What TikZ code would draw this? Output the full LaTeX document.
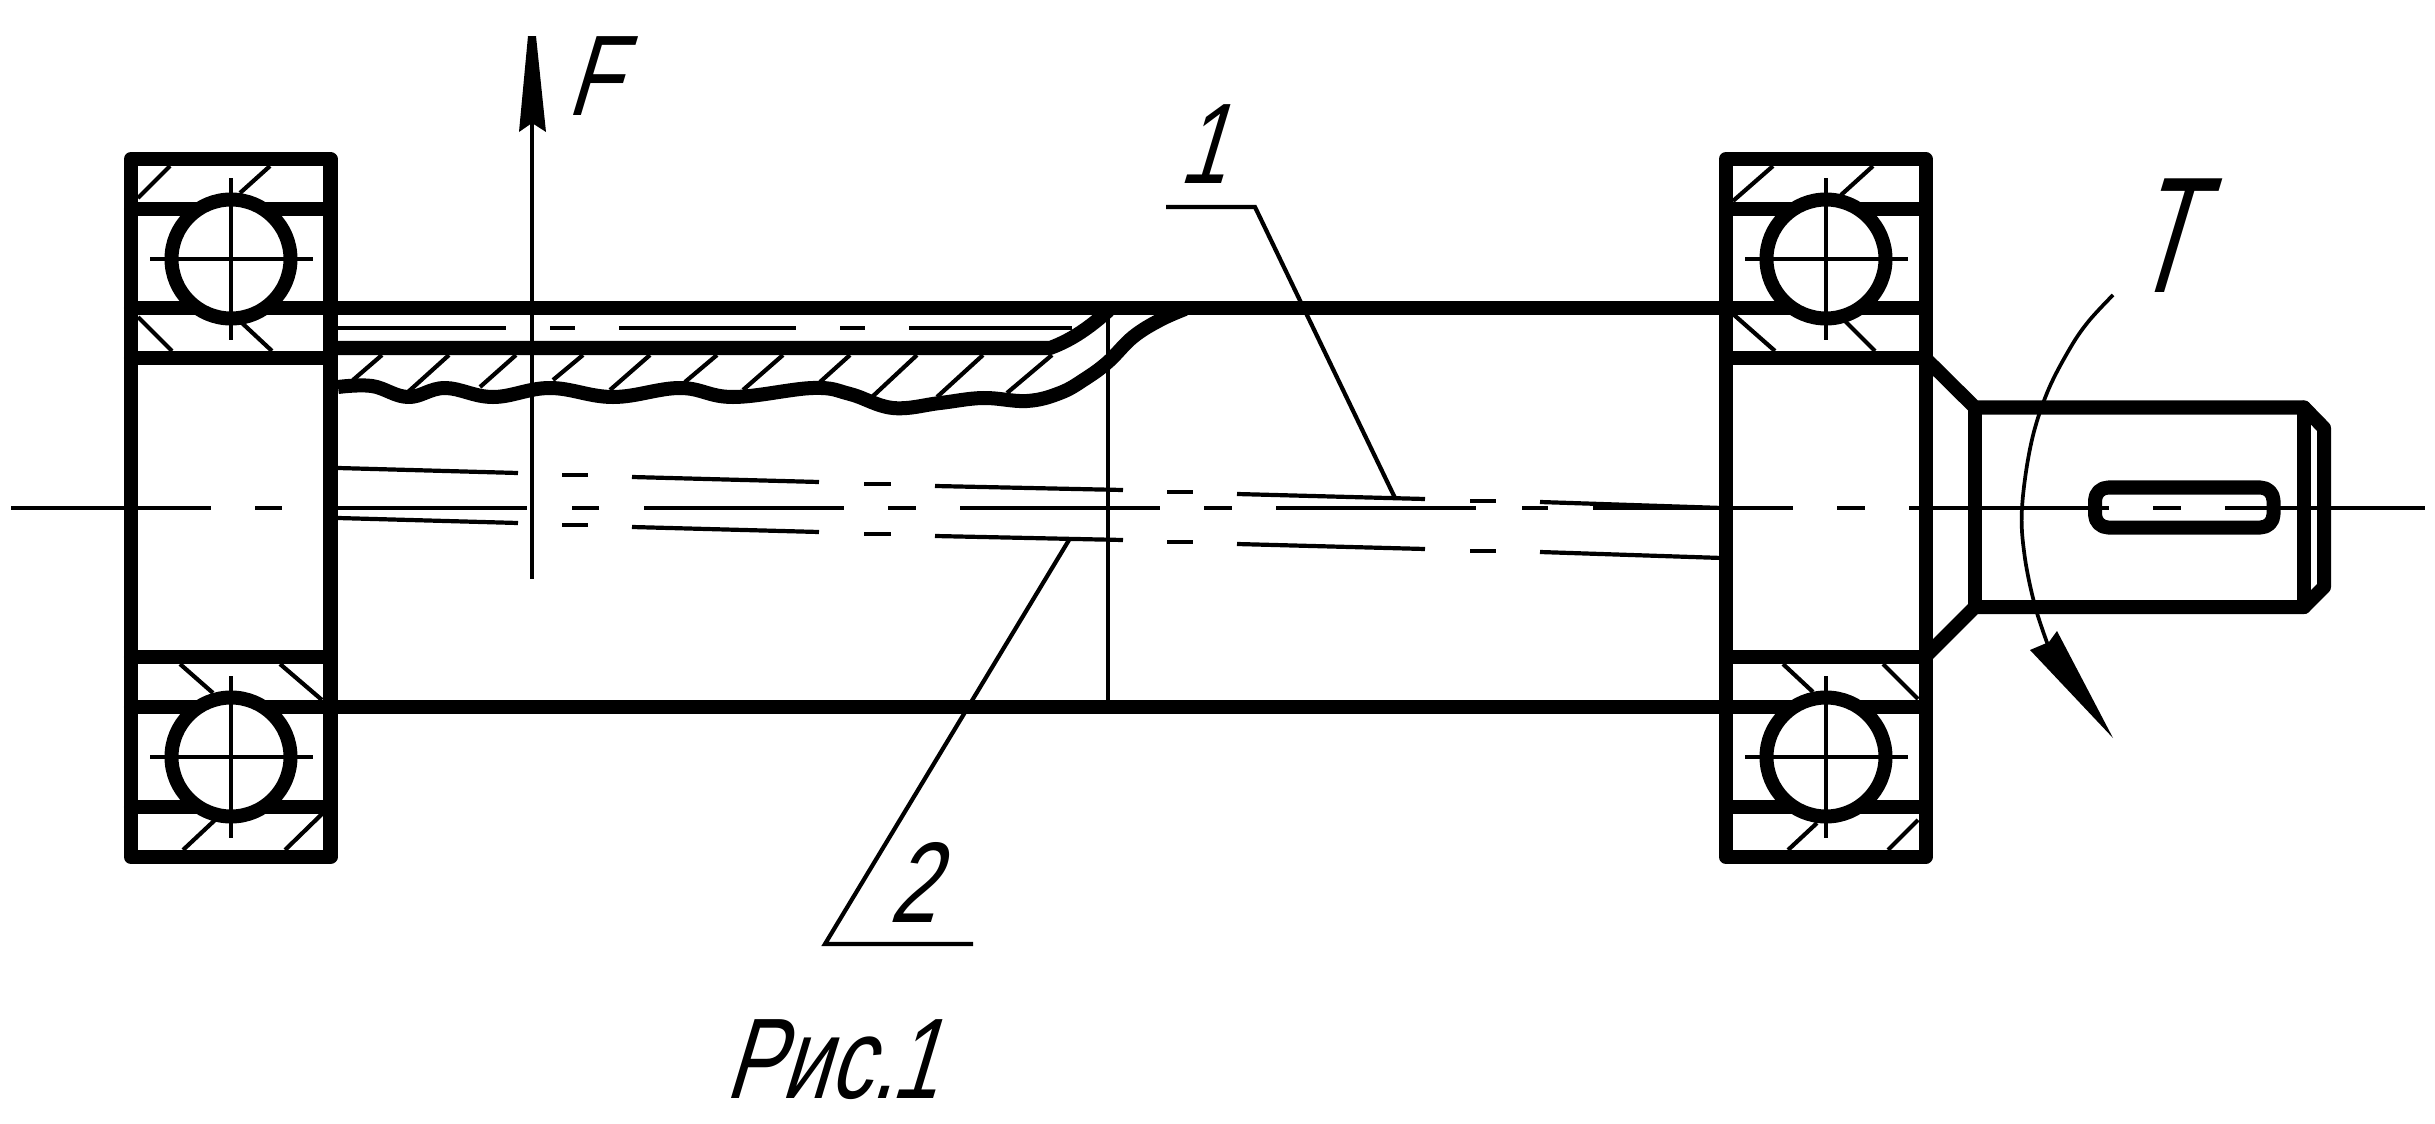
\documentclass[tikz,border=0pt]{standalone}
\usepackage{fontspec}
\newfontfamily\gost[FakeSlant=0.3,FakeStretch=0.74]{Liberation Sans}
\newfontfamily\gostT[FakeSlant=0.3,FakeStretch=0.62]{Liberation Sans}
\tikzset{
  thickl/.style={line width=0.14cm,line join=round,line cap=round},
  thinl/.style={line width=0.042cm},
  hatchl/.style={line width=0.042cm},
  ballw/.style={line width=0.14cm,fill=white},
  lab/.style={inner sep=0,outer sep=0,anchor=base west,font=\gost\fontsize{32.6pt}{32.6pt}\selectfont},
  labT/.style={inner sep=0,outer sep=0,anchor=base west,font=\gostT\fontsize{47pt}{47pt}\selectfont},
  tipf/.style={fill=black,draw=none}
}
\newcommand{\seg}[4]{\draw[thinl] (#1,#2) -- (#3,#4);}
\begin{document}
\begin{tikzpicture}[x=0.01cm,y=-0.01cm]
\useasboundingbox (0,0) rectangle (2435,1124);
% centre line
\foreach \a/\b in {11/211,255/282,327/527,572/599,644/844,888/916,960/1160,1204/1232,1276/1476,1522/1548,1593/1793,1837/1865,1909/2109,2153/2181,2225/2425}
  \draw[thinl] (\a,508) -- (\b,508);
% deflected axis, upper
\seg{338}{468}{518}{473}\seg{562}{475}{588}{475}\seg{632}{477}{819}{482}\seg{864}{484}{891}{484}
\seg{935}{486}{1123}{490}\seg{1167}{492}{1193}{492}\seg{1237}{494}{1425}{499}\seg{1470}{501}{1496}{501}\seg{1540}{502}{1722}{508}
% deflected axis, lower
\seg{338}{518}{518}{523}\seg{562}{525}{588}{525}\seg{632}{527}{819}{532}\seg{864}{534}{891}{534}
\seg{935}{536}{1123}{540}\seg{1167}{542}{1193}{542}\seg{1237}{544}{1425}{549}\seg{1470}{551}{1496}{551}\seg{1540}{552}{1722}{558}
% tube interior centre line
\foreach \a/\b in {338/506,550/575,619/796,840/865,909/1072}
  \draw[thinl] (\a,328) -- (\b,328);
% section hatching
\foreach \a/\b/\c/\d in {382/355/353/380,449/355/408/392,516/355/480/387,583/355/553/380,650/355/610/390,717/355/685/382,783/355/743/390,850/355/820/382,917/355/872/397,983/355/937/397,1052/355/1007/393}
  \draw[hatchl] (\a,\b) -- (\c,\d);
% bearing hatching, left
\foreach \a/\b/\c/\d in {138/198/170/166,240/193/270/166,138/317/172/351,242/323/272/351,180/664/213/693,280/664/322/700,183/850/215/820,285/850/323/813}
  \draw[hatchl] (\a,\b) -- (\c,\d);
% bearing hatching, right
\foreach \a/\b/\c/\d in {1733/201/1773/166,1841/195/1873/166,1733/314/1775/351,1845/321/1875/351,1783/664/1813/692,1883/664/1918/699,1788/850/1817/823,1888/850/1918/820}
  \draw[hatchl] (\a,\b) -- (\c,\d);
% bearings
\foreach \ox in {131,1726}{
  \draw[thickl] (\ox,159) rectangle ++(199.5,698);
  \foreach \yy in {209,308,358,657,707,807}
    \draw[thickl] (\ox,\yy) -- ++(199.5,0);
}
% shaft walls
\draw[thickl] (331,308) -- (1726,308);
\draw[thickl] (331,707) -- (1726,707);
% balls
\foreach \cx in {231,1826}\foreach \cy in {259,757}{
  \draw[ballw] (\cx,\cy) circle (59.5);
  \draw[thinl] (\cx-81,\cy) -- (\cx+82,\cy);
  \draw[thinl] (\cx,\cy-81) -- (\cx,\cy+81);
}
% broken-out wall
\draw[thickl] (338,348) -- (1050,348) .. controls (1072,340) and (1090,327) .. (1108,311);
\draw[thickl,line cap=butt] plot[smooth,tension=0.65] coordinates {(338,387) (372,386) (408,397) (445,388) (493,397) (550,388) (613,397) (680,388) (733,397) (813,388) (850,394) (893,408) (940,403) (983,398) (1027,401) (1060,393) (1085,379) (1108,362) (1133,337) (1160,320) (1185,309)};
% section line
\draw[thinl] (1108,310) -- (1108,707);
% journal
\draw[thickl] (1925,358) -- (1975,407.5) -- (2304,407.5) -- (2324,428) -- (2324,587) -- (2304,607) -- (1975,607) -- (1925,657);
\draw[thickl] (1975,407.5) -- (1975,607);
\draw[thickl] (2304,407.5) -- (2304,607);
\draw[thickl,rounded corners=0.13cm] (2095,487.5) rectangle (2273.5,527.5);
% force F
\coordinate (ftip) at (532,50);
\coordinate (fend) at (532,579);
\draw[thinl] (ftip) -- (fend);
\draw[tipf] (528,36) -- (536,36) -- (546,132) -- (532,123) -- (519,132) -- cycle;
\node[lab] (labF) at (566,115) {F};
% torque T
\draw[line width=0.037cm] plot[smooth,tension=0.6] coordinates {(2113,295) (2088,322) (2069,350) (2047,393) (2031,444) (2022,508) (2024.5,555) (2035,606) (2049,648)};
\draw[tipf] (2030,650) -- (2049,642) -- (2057,631) -- (2113,738) -- cycle;
\node[labT] (labT) at (2128,292) {T};
% leader 1
\coordinate (l1a) at (1166,207);
\coordinate (l1b) at (1255,207);
\coordinate (l1c) at (1395,498);
\draw[thinl] (l1a) -- (l1b) -- (l1c);
\node[lab] (lab1) at (1178,183) {1};
% leader 2
\coordinate (l2a) at (973,944);
\coordinate (l2b) at (825,944);
\coordinate (l2c) at (1069,540);
\draw[thinl] (l2a) -- (l2b) -- (l2c);
\node[lab] (lab2) at (888,922) {2};
% caption
\node[lab] (cap) at (724,1098) {Рис.\kern-1pt 1};
\end{tikzpicture}
\end{document}
